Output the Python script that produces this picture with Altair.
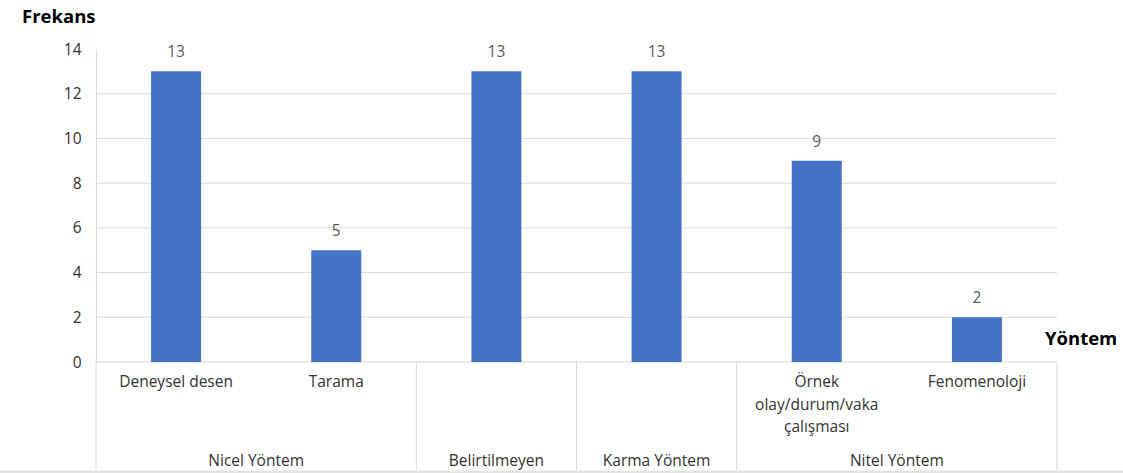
import altair as alt
import pandas as pd

# Sub-method categories, their counts and the method group each belongs to
methods = ["Deneysel desen", "Tarama", "", "", "Örnek\nolay/durum/vaka\nçalışması", "Fenomenoloji"]
counts = [13, 5, 13, 13, 9, 2]

groups = ["Nicel Yöntem", "Belirtilmeyen", "Karma Yöntem", "Nitel Yöntem"]
group_sizes = [2, 1, 1, 2]

y_ticks = [0, 2, 4, 6, 8, 10, 12, 14]
grid_levels = [0, 2, 4, 6, 8, 10, 12]

W, H = 961, 313
BAR_BLUE = "#4472C4"
TEXT = "#333333"
LINE = "#d9d9d9"
FONT = "Open Sans"
FS = 15.5

# Build tables: each category occupies one unit slot on the x scale
bars = pd.DataFrame({
    "pos": [i + 0.5 for i in range(len(counts))],
    "method": methods,
    "count": counts,
})

bounds, centers = [0], []
for size in group_sizes:
    centers.append(bounds[-1] + size / 2)
    bounds.append(bounds[-1] + size)
group_df = pd.DataFrame({"center": centers, "group": groups})
bound_df = pd.DataFrame({"b": bounds})
grid_df = pd.DataFrame({"v": grid_levels})

xs = alt.Scale(domain=[0, len(counts)], range=[0, W], nice=False, zero=False, padding=0)
ys = alt.Scale(domain=[0, 14], nice=False)

grid = alt.Chart(grid_df).mark_rule(color=LINE, strokeWidth=1).encode(
    y=alt.Y("v:Q", scale=ys,
            axis=alt.Axis(values=y_ticks, title=None, grid=False, ticks=False,
                          domainColor=LINE, labelFont=FONT, labelFontSize=FS,
                          labelColor=TEXT, labelPadding=15)),
    x=alt.value(0),
    x2=alt.value(W),
)

bar = alt.Chart(bars).mark_bar(size=50, color=BAR_BLUE).encode(
    x=alt.X("pos:Q", scale=xs, axis=None),
    y=alt.Y("count:Q", scale=ys),
)

value_labels = alt.Chart(bars).mark_text(
    dy=-19, baseline="middle", font=FONT, fontSize=FS, color="#595959"
).encode(
    x=alt.X("pos:Q", scale=xs),
    y=alt.Y("count:Q", scale=ys),
    text="count:Q",
)

method_labels = alt.Chart(bars).mark_text(
    baseline="top", align="center", font=FONT, fontSize=FS, color=TEXT,
    lineBreak="\n", lineHeight=22.5
).encode(
    x=alt.X("pos:Q", scale=xs),
    y=alt.value(326),
    text="method:N",
)

group_labels = alt.Chart(group_df).mark_text(
    baseline="middle", align="center", font=FONT, fontSize=FS, color=TEXT
).encode(
    x=alt.X("center:Q", scale=xs),
    y=alt.value(412),
    text="group:N",
)

separators = alt.Chart(bound_df).mark_rule(color=LINE, strokeWidth=1).encode(
    x=alt.X("b:Q", scale=xs),
    y=alt.value(H),
    y2=alt.value(H + 108),
)

bottom_line = alt.Chart(bound_df.head(1)).mark_rule(color="#e3e3e3", strokeWidth=3).encode(
    x=alt.value(-96),
    x2=alt.value(W + 66),
    y=alt.value(H + 110),
)

titles = pd.DataFrame({"t": ["Frekans", "Yöntem"], "tx": [-74, 949], "ty": [-32, 290]})
axis_titles = alt.Chart(titles).mark_text(
    align="left", baseline="middle", font=FONT, fontSize=18.5, fontWeight="bold", color="#000000"
).encode(
    x=alt.X("tx:Q", scale=None),
    y=alt.Y("ty:Q", scale=None),
    text="t:N",
)

chart = alt.layer(
    grid, bar, value_labels, method_labels, group_labels, separators, bottom_line, axis_titles
).properties(
    width=W, height=H,
    autosize=alt.AutoSizeParams(type="none"),
    padding={"left": 96, "top": 49, "right": 66, "bottom": 111},
).configure(
    background="white",
    view=alt.ViewConfig(strokeWidth=0, strokeOpacity=0),
)

chart.save("out.html", embed_options={"renderer": "svg", "actions": False})
